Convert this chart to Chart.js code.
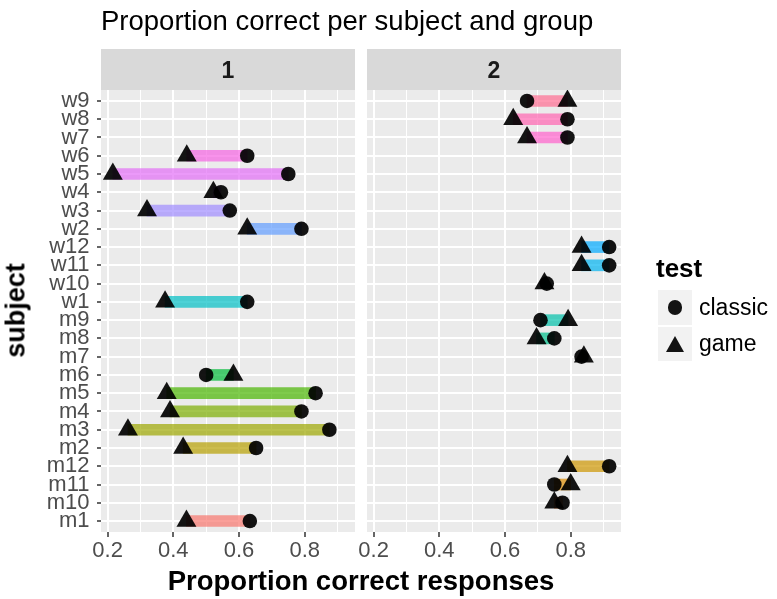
<!DOCTYPE html>
<html>
<head>
<meta charset="utf-8">
<script src="https://cdn.jsdelivr.net/npm/chart.js@4"></script>
<style>
  html, body { margin: 0; padding: 0; background: #ffffff; }
  #wrap { position: relative; width: 777px; height: 599px; overflow: hidden; background: #ffffff;
          font-family: "Liberation Sans", Arial, Helvetica, sans-serif; }
  canvas { position: absolute; left: 0; top: 0; }
  .t { position: absolute; white-space: nowrap; }
  .strip { position: absolute; background: #D9D9D9; }
  .key { position: absolute; background: #F2F2F2; }
</style>
</head>
<body>
<div id="wrap">
  <canvas id="c1" width="777" height="599"></canvas>
  <canvas id="c2" width="777" height="599"></canvas>

  <div class="t" style="left:101px; top:6.7px; font-size:27.5px; line-height:27.5px; color:#000;">Proportion correct per subject and group</div>

  <div class="strip" style="left:101px; top:49px; width:254px; height:41px;"></div>
  <div class="strip" style="left:367px; top:49px; width:254px; height:41px;"></div>
  <div class="t" style="left:101px; width:254px; text-align:center; top:58.5px; font-size:23px; line-height:23px; font-weight:bold; color:#1A1A1A;">1</div>
  <div class="t" style="left:367px; width:254px; text-align:center; top:58.5px; font-size:23px; line-height:23px; font-weight:bold; color:#1A1A1A;">2</div>

  <div class="t" style="left:161px; width:400px; text-align:center; top:566.7px; font-size:27.5px; line-height:27.5px; font-weight:bold; color:#000;">Proportion correct responses</div>
  <div class="t" style="left:-84.4px; top:296.5px; width:200px; height:27px; text-align:center; font-size:27px; line-height:27px; font-weight:bold; color:#000; transform:rotate(-90deg);">subject</div>

  <div class="t" style="left:656px; top:255px; font-size:26px; line-height:26px; font-weight:bold; color:#000;">test</div>
  <div class="key" style="left:658px; top:290px; width:34px; height:35px;"></div>
  <div class="key" style="left:658px; top:327px; width:34px; height:34px;"></div>
  <div style="position:absolute; left:667.7px; top:300.2px; width:14.6px; height:14.6px; border-radius:50%; background:rgba(0,0,0,0.92);"></div>
  <div style="position:absolute; left:665.5px; top:336px; width:0; height:0; border-left:9.5px solid transparent; border-right:9.5px solid transparent; border-bottom:16px solid rgba(0,0,0,0.92);"></div>
  <div class="t" style="left:699px; top:295.5px; font-size:23px; line-height:23px; color:#000;">classic</div>
  <div class="t" style="left:699px; top:331.5px; font-size:23px; line-height:23px; color:#000;">game</div>
</div>

<script>
// ---------------- data ----------------
const subjects = ['m1','m10','m11','m12','m2','m3','m4','m5','m6','m7','m8','m9',
                  'w1','w10','w11','w12','w2','w3','w4','w5','w6','w7','w8','w9'];
const group    = [1, 2, 2, 2, 1, 1, 1, 1, 1, 2, 2, 2,
                  1, 2, 2, 2, 1, 1, 1, 1, 1, 2, 2, 2];
const classic  = [0.633, 0.775, 0.75, 0.917, 0.652, 0.875, 0.79, 0.833, 0.50, 0.833, 0.75, 0.708,
                  0.625, 0.727, 0.917, 0.917, 0.79, 0.572, 0.545, 0.75, 0.625, 0.79, 0.79, 0.667];
const game     = [0.44, 0.75, 0.80, 0.79, 0.43, 0.262, 0.39, 0.38, 0.583, 0.84, 0.696, 0.792,
                  0.375, 0.72, 0.833, 0.833, 0.625, 0.32, 0.522, 0.216, 0.441, 0.667, 0.625, 0.79];
const groups   = [1, 2];
const xMajorTicks = [0.2, 0.4, 0.6, 0.8];
const xMinorTicks = [0.3, 0.5, 0.7, 0.9];
const xLimits  = [0.180, 0.953];

// ---------------- ggplot hue palette ----------------
function hcl(h, c, l) {
  const hr = h * Math.PI / 180;
  const U = c * Math.cos(hr), V = c * Math.sin(hr);
  const Xn = 95.047, Yn = 100.0, Zn = 108.883;
  const den = Xn + 15 * Yn + 3 * Zn;
  const un = 4 * Xn / den, vn = 9 * Yn / den;
  const Y = Yn * (l > 8 ? Math.pow((l + 16) / 116, 3) : l / 903.3);
  const u = U / (13 * l) + un, v = V / (13 * l) + vn;
  const X = 9 * Y * u / (4 * v);
  const Z = 3 * Y / v - X / 3 - 5 * Y;
  const x = X / 100, y = Y / 100, z = Z / 100;
  let r = 3.240479 * x - 1.537150 * y - 0.498535 * z;
  let g = -0.969256 * x + 1.875992 * y + 0.041556 * z;
  let b = 0.055648 * x - 0.204043 * y + 1.057311 * z;
  const gam = t => { t = t <= 0.0031308 ? 12.92 * t : 1.055 * Math.pow(t, 1 / 2.4) - 0.055; return Math.round(Math.min(1, Math.max(0, t)) * 255); };
  return [gam(r), gam(g), gam(b)];
}
const hues = subjects.map((_, i) => 15 + i * 360 / subjects.length);
const segColors = hues.map(h => { const c = hcl(h, 100, 65); return `rgba(${c[0]},${c[1]},${c[2]},0.7)`; });

const FONT = '"Liberation Sans", Arial, Helvetica, sans-serif';
const isMajor = v => xMajorTicks.some(m => Math.abs(m - v) < 1e-9);

const panelBg = {
  id: 'panelBg',
  beforeDraw(chart) {
    const a = chart.chartArea, ctx = chart.ctx;
    ctx.save(); ctx.fillStyle = '#EBEBEB';
    ctx.fillRect(a.left, a.top, a.right - a.left, a.bottom - a.top);
    ctx.restore();
  }
};

function makePanel(canvasId, g, showY, padLeft, padRight) {
  const idx = subjects.map((s, i) => i).filter(i => group[i] === g);
  const bars = idx.map(i => ({ y: i, x: [game[i], classic[i]] }));
  const barCols = idx.map(i => segColors[i]);
  const circ = idx.map(i => ({ x: classic[i], y: i }));
  const tri = idx.map(i => ({ x: game[i], y: i }));

  return new Chart(document.getElementById(canvasId), {
    type: 'bar',
    data: {
      datasets: [
        { type: 'scatter', data: tri, pointStyle: 'triangle', pointRadius: 11.5, pointHoverRadius: 11.5,
          backgroundColor: 'rgba(0,0,0,0.92)', borderWidth: 0, pointBorderWidth: 0, order: 1 },
        { type: 'scatter', data: circ, pointStyle: 'circle', pointRadius: 7.3, pointHoverRadius: 7.3,
          backgroundColor: 'rgba(0,0,0,0.92)', borderWidth: 0, pointBorderWidth: 0, order: 2 },
        { type: 'bar', data: bars, backgroundColor: barCols, borderWidth: 0, barThickness: 11, order: 3 }
      ]
    },
    options: {
      indexAxis: 'y',
      responsive: false,
      animation: false,
      events: [],
      devicePixelRatio: 1,
      layout: { padding: { left: padLeft, right: padRight, top: 90, bottom: 0 } },
      plugins: { legend: { display: false }, tooltip: { enabled: false }, title: { display: false } },
      scales: {
        x: {
          type: 'linear', position: 'bottom', min: xLimits[0], max: xLimits[1], bounds: 'data',
          offset: false,
          afterBuildTicks: s => { s.ticks = xMajorTicks.concat(xMinorTicks).sort((a, b) => a - b).map(v => ({ value: v })); },
          afterFit: s => { s.height = 67; },
          ticks: { autoSkip: false, maxRotation: 0, minRotation: 0, padding: 1, color: '#4D4D4D',
                   font: { family: FONT, size: 22 },
                   callback: v => isMajor(v) ? v.toFixed(1) : '' },
          grid: { color: '#FFFFFF', offset: false,
                  lineWidth: c => (c.tick && isMajor(c.tick.value)) ? 2 : 1,
                  tickColor: c => (c.tick && isMajor(c.tick.value)) ? '#333333' : 'rgba(0,0,0,0)',
                  tickLength: 5, tickWidth: 1.5, drawTicks: true },
          border: { display: false }
        },
        y: {
          type: 'linear', position: 'left', min: -0.6, max: subjects.length - 1 + 0.6, bounds: 'data',
          offset: false, reverse: false,
          afterBuildTicks: s => { s.ticks = subjects.map((_, i) => ({ value: i })); },
          afterFit: s => { s.width = showY ? 101 : 0; },
          ticks: { display: showY, autoSkip: false, padding: 7.5, color: '#4D4D4D',
                   font: { family: FONT, size: 22 },
                   callback: v => subjects[Math.round(v)] },
          grid: { color: '#FFFFFF', lineWidth: 2, offset: false, drawTicks: showY,
                  tickColor: '#333333', tickLength: 4, tickWidth: 1.5 },
          border: { display: false }
        }
      }
    },
    plugins: [panelBg]
  });
}

makePanel('c1', groups[0], true, 0, 777 - 355);
makePanel('c2', groups[1], false, 367, 777 - 621);
</script>
</body>
</html>
